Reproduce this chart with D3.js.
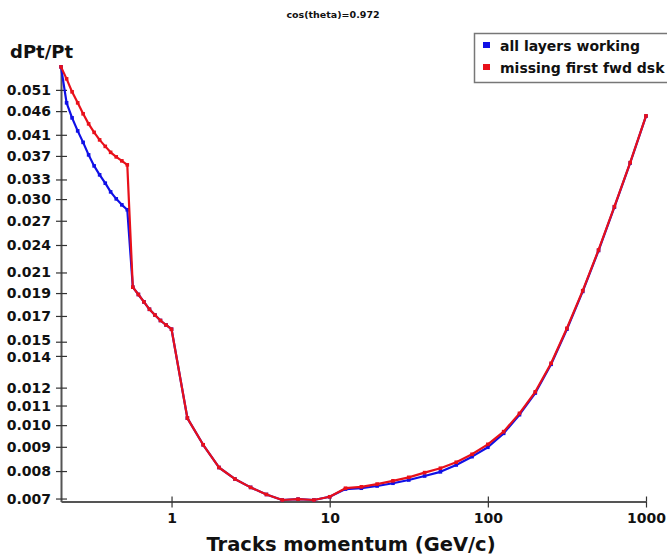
<!DOCTYPE html>
<html>
<head>
<meta charset="utf-8">
<script src="https://cdn.jsdelivr.net/npm/d3@7"></script>
<style>
  body { margin: 0; background: #fff; }
  svg text { font-family: "DejaVu Sans", sans-serif; font-weight: bold; fill: #111; }
</style>
</head>
<body>
<svg id="chart" width="667" height="557"></svg>
<script>
// Track momentum (GeV/c) at which the resolution was evaluated
const momentum = [
  0.200, 0.217, 0.235, 0.255, 0.276, 0.299, 0.324, 0.351, 0.381, 0.412, 0.447,
  0.485, 0.525, 0.569, 0.617, 0.669, 0.725, 0.785, 0.851, 0.923, 1.000,
  1.259, 1.585, 1.995, 2.512, 3.162, 3.981, 5.012, 6.310, 7.943, 10.00,
  12.59, 15.85, 19.95, 25.12, 31.62, 39.81, 50.12, 63.10, 79.43, 100.0,
  125.9, 158.5, 199.5, 251.2, 316.2, 398.1, 501.2, 631.0, 794.3, 1000
];

// dPt/Pt with all layers working
const allLayersWorking = [
  0.05704, 0.04789, 0.04452, 0.04179, 0.03952, 0.03719, 0.03525, 0.03375, 0.03241, 0.03107, 0.03003,
  0.02917, 0.02848, 0.01955, 0.01887, 0.01820, 0.01756, 0.01708, 0.01663, 0.01627, 0.01594,
  0.01035, 0.00909, 0.00814, 0.00770, 0.00739, 0.00714, 0.00695, 0.00698, 0.00695, 0.00706,
  0.00733, 0.00736, 0.00744, 0.00754, 0.00766, 0.00781, 0.00797, 0.00824, 0.00858, 0.00898,
  0.00961, 0.01052, 0.01169, 0.01344, 0.01594, 0.01915, 0.02336, 0.02885, 0.03575, 0.04490
];

// dPt/Pt with the first forward disk missing
const missingFirstFwdDisk = [
  0.05704, 0.05381, 0.05052, 0.04789, 0.04540, 0.04324, 0.04149, 0.04000, 0.03876, 0.03765, 0.03683,
  0.03612, 0.03543, 0.01955, 0.01887, 0.01820, 0.01756, 0.01708, 0.01663, 0.01627, 0.01594,
  0.01035, 0.00909, 0.00814, 0.00770, 0.00739, 0.00714, 0.00695, 0.00698, 0.00695, 0.00706,
  0.00736, 0.00741, 0.00751, 0.00763, 0.00776, 0.00794, 0.00811, 0.00835, 0.00868, 0.00911,
  0.00969, 0.01059, 0.01176, 0.01351, 0.01601, 0.01922, 0.02343, 0.02892, 0.03582, 0.04496
];

const seriesNames = ["all layers working", "missing first fwd dsk"];
const seriesColors = ["#1010e6", "#e8101a"];

const yTickValues = [0.007, 0.008, 0.009, 0.010, 0.011, 0.012, 0.014, 0.015, 0.017, 0.019,
                     0.021, 0.024, 0.027, 0.030, 0.033, 0.037, 0.041, 0.046, 0.051];
const xTickValues = [1, 10, 100, 1000];

const svg = d3.select("#chart");

const x = d3.scaleLog().domain([0.2, 1000]).range([61, 646]);
const y = d3.scaleLog().domain([0.0069, 0.057]).range([501.5, 67]);

// Title
svg.append("text")
  .attr("x", 333).attr("y", 18)
  .attr("text-anchor", "middle")
  .style("font-size", "9.5px")
  .text("cos(theta)=0.972");

// Y axis (ticks cross the axis line)
const yAxis = svg.append("g")
  .attr("transform", `translate(${x.range()[0]},0)`)
  .call(d3.axisLeft(y)
    .tickValues(yTickValues)
    .tickFormat(d3.format(".3f"))
    .tickSizeInner(5).tickSizeOuter(0).tickPadding(5));
yAxis.select(".domain").attr("stroke", "#555").attr("stroke-width", 2);
yAxis.selectAll(".tick line").attr("stroke", "#333").attr("stroke-width", 1.2);
yAxis.selectAll(".tick").append("line")
  .attr("x1", 0).attr("x2", 6).attr("stroke", "#333").attr("stroke-width", 1.2);
yAxis.selectAll(".tick text")
  .style("font-size", "14px")
  .attr("fill", "#111")
  // the two closest labels are nudged apart a little
  .attr("y", d => d === 0.015 ? -1.3 : d === 0.014 ? 1.3 : 0);

// X axis
const xAxis = svg.append("g")
  .attr("transform", `translate(0,${y.range()[0]})`)
  .call(d3.axisBottom(x)
    .tickValues(xTickValues)
    .tickFormat(d3.format("d"))
    .tickSizeInner(6).tickSizeOuter(0).tickPadding(6));
xAxis.select(".domain").attr("stroke", "#555").attr("stroke-width", 2);
xAxis.selectAll(".tick line").attr("stroke", "#333").attr("stroke-width", 1.2);
xAxis.selectAll(".tick").append("line")
  .attr("y1", 0).attr("y2", -5).attr("stroke", "#333").attr("stroke-width", 1.2);
xAxis.selectAll(".tick text").style("font-size", "14px").attr("fill", "#111");

// Axis titles
svg.append("text")
  .attr("x", 10).attr("y", 58)
  .style("font-size", "18px")
  .text("dPt/Pt");

svg.append("text")
  .attr("x", 351).attr("y", 551)
  .attr("text-anchor", "middle")
  .style("font-size", "19.5px")
  .text("Tracks momentum (GeV/c)");

// Curves with point markers
const series = [allLayersWorking, missingFirstFwdDisk];
const line = d3.line().x(d => x(d[0])).y(d => y(d[1]));

series.forEach((vals, i) => {
  const pts = momentum.map((m, j) => [m, vals[j]]);
  const g = svg.append("g");
  g.append("path")
    .datum(pts)
    .attr("fill", "none")
    .attr("stroke", seriesColors[i])
    .attr("stroke-width", 2.2)
    .attr("stroke-linejoin", "round")
    .attr("d", line);
  g.selectAll("rect")
    .data(pts)
    .join("rect")
    .attr("x", d => x(d[0]) - 1.8)
    .attr("y", d => y(d[1]) - 1.8)
    .attr("width", 3.6)
    .attr("height", 3.6)
    .attr("fill", seriesColors[i]);
});

// Legend
const legend = svg.append("g");
legend.append("rect")
  .attr("x", 474.5).attr("y", 33.5)
  .attr("width", 200).attr("height", 49)
  .attr("fill", "#fff")
  .attr("stroke", "#777").attr("stroke-width", 1.5);
seriesNames.forEach((name, i) => {
  const cy = 45 + i * 22;
  legend.append("rect")
    .attr("x", 483).attr("y", cy - 3)
    .attr("width", 7).attr("height", 6)
    .attr("fill", seriesColors[i]);
  legend.append("text")
    .attr("x", 500).attr("y", cy + 6)
    .style("font-size", "14px")
    .text(name);
});
</script>
</body>
</html>
